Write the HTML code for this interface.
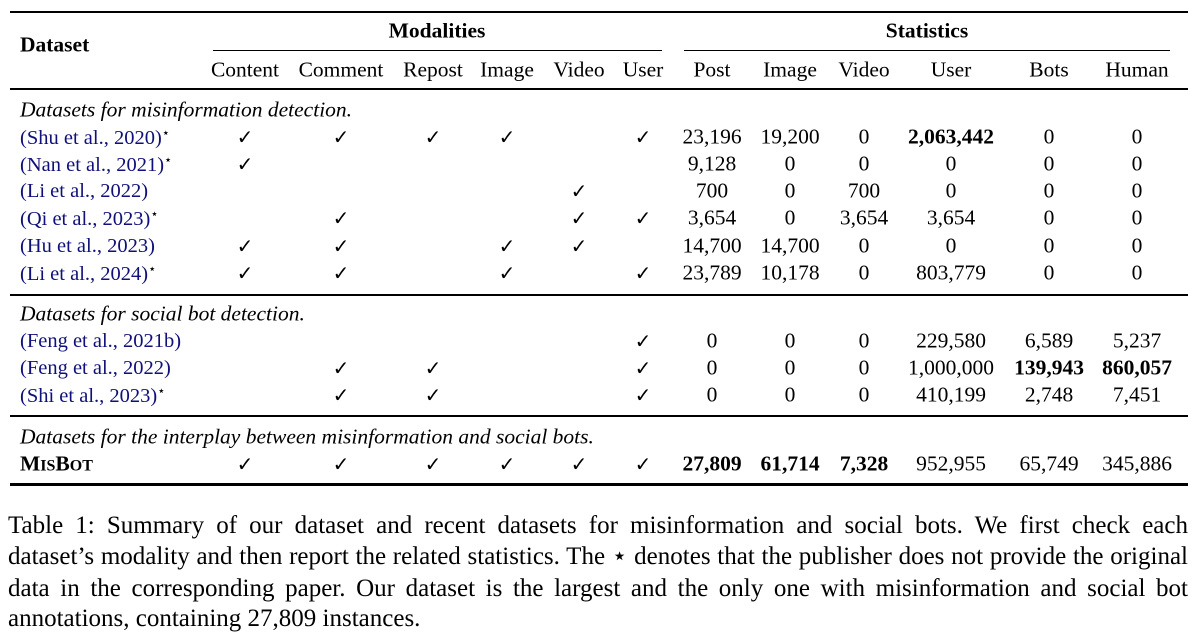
<!DOCTYPE html>
<html><head><meta charset="utf-8"><style>
body{margin:0;background:#fff;width:1198px;height:638px;position:relative;overflow:hidden;font-family:"Liberation Serif",serif;color:#000}
.c{position:absolute;transform:translate(-50%,-50%);font-size:21.5px;white-space:nowrap;line-height:1}
.l{position:absolute;transform:translateY(-50%);font-size:21.5px;white-space:nowrap;line-height:1}
.n{font-size:20.5px}
.r{position:absolute;background:#000}
.b{font-weight:bold}
.i{font-style:italic}
.a{color:#10107a;text-decoration:none}
sup{font-size:13px;vertical-align:7px;color:#000}
.ck{font-family:"DejaVu Sans",sans-serif;font-size:20px}
.cl{position:absolute;left:8px;width:1180px;font-size:25px;line-height:31px;text-align:justify;text-align-last:justify;white-space:nowrap}
</style></head><body>
<div class="r" style="left:10px;top:11px;width:1178px;height:2px"></div>
<div class="r" style="left:213px;top:50px;width:449px;height:1px"></div>
<div class="r" style="left:684px;top:50px;width:486px;height:1px"></div>
<div class="r" style="left:10px;top:88px;width:1178px;height:2px"></div>
<div class="r" style="left:10px;top:294px;width:1178px;height:1.5px"></div>
<div class="r" style="left:10px;top:415px;width:1178px;height:1.5px"></div>
<div class="r" style="left:10px;top:483px;width:1178px;height:3px"></div>

<div class="l b" style="left:20px;top:45px">Dataset</div>
<div class="c b" style="left:437px;top:31px">Modalities</div>
<div class="c b" style="left:927px;top:31px">Statistics</div>
<div class="c" style="left:245px;top:70px">Content</div>
<div class="c" style="left:341px;top:70px">Comment</div>
<div class="c" style="left:433px;top:70px">Repost</div>
<div class="c" style="left:507px;top:70px">Image</div>
<div class="c" style="left:579px;top:70px">Video</div>
<div class="c" style="left:643px;top:70px">User</div>
<div class="c" style="left:712px;top:70px">Post</div>
<div class="c" style="left:790px;top:70px">Image</div>
<div class="c" style="left:864px;top:70px">Video</div>
<div class="c" style="left:951px;top:70px">User</div>
<div class="c" style="left:1049px;top:70px">Bots</div>
<div class="c" style="left:1137px;top:70px">Human</div>

<div class="l i" style="left:20px;top:110px">Datasets for misinformation detection.</div>
<div class="l i" style="left:20px;top:314px">Datasets for social bot detection.</div>
<div class="l i" style="left:20px;top:437px">Datasets for the interplay between misinformation and social bots.</div>

<div id="rows"></div>
<script>
var X=[245,341,433,507,579,643,712,790,864,951,1049,1137];
var R=[
[137,'(Shu et al., 2020)',1,[1,1,1,1,0,1],['23,196','19,200','0','<b>2,063,442</b>','0','0']],
[164,'(Nan et al., 2021)',1,[1,0,0,0,0,0],['9,128','0','0','0','0','0']],
[191,'(Li et al., 2022)',0,[0,0,0,0,1,0],['700','0','700','0','0','0']],
[218,'(Qi et al., 2023)',1,[0,1,0,0,1,1],['3,654','0','3,654','3,654','0','0']],
[246,'(Hu et al., 2023)',0,[1,1,0,1,1,0],['14,700','14,700','0','0','0','0']],
[273,'(Li et al., 2024)',1,[1,1,0,1,0,1],['23,789','10,178','0','803,779','0','0']],
[341,'(Feng et al., 2021b)',0,[0,0,0,0,0,1],['0','0','0','229,580','6,589','5,237']],
[368,'(Feng et al., 2022)',0,[0,1,1,0,0,1],['0','0','0','1,000,000','<b>139,943</b>','<b>860,057</b>']],
[395,'(Shi et al., 2023)',1,[0,1,1,0,0,1],['0','0','0','410,199','2,748','7,451']],
[464,null,0,[1,1,1,1,1,1],['<b>27,809</b>','<b>61,714</b>','<b>7,328</b>','952,955','65,749','345,886']]
];
var h='';
R.forEach(function(r){
 var y=r[0];
 if(r[1]) h+='<div class="l n" style="left:20px;top:'+y+'px"><span class="a">'+r[1]+'</span>'+(r[2]?'<sup>⋆</sup>':'')+'</div>';
 else h+='<div class="l b" style="left:20px;top:'+y+'px">M<span style="font-size:16px">IS</span>B<span style="font-size:16px">OT</span></div>';
 r[3].forEach(function(v,i){if(v)h+='<div class="c ck" style="left:'+X[i]+'px;top:'+y+'px">✓</div>';});
 r[4].forEach(function(v,i){h+='<div class="c" style="left:'+X[6+i]+'px;top:'+y+'px">'+v+'</div>';});
});
document.getElementById('rows').innerHTML=h;
</script>
<div class="cl" style="top:510px">Table 1: Summary of our dataset and recent datasets for misinformation and social bots. We first check each</div>
<div class="cl" style="top:541px">dataset’s modality and then report the related statistics. The ⋆ denotes that the publisher does not provide the original</div>
<div class="cl" style="top:573px">data in the corresponding paper. Our dataset is the largest and the only one with misinformation and social bot</div>
<div class="cl" style="top:603px;text-align-last:left">annotations, containing 27,809 instances.</div>
</body></html>
